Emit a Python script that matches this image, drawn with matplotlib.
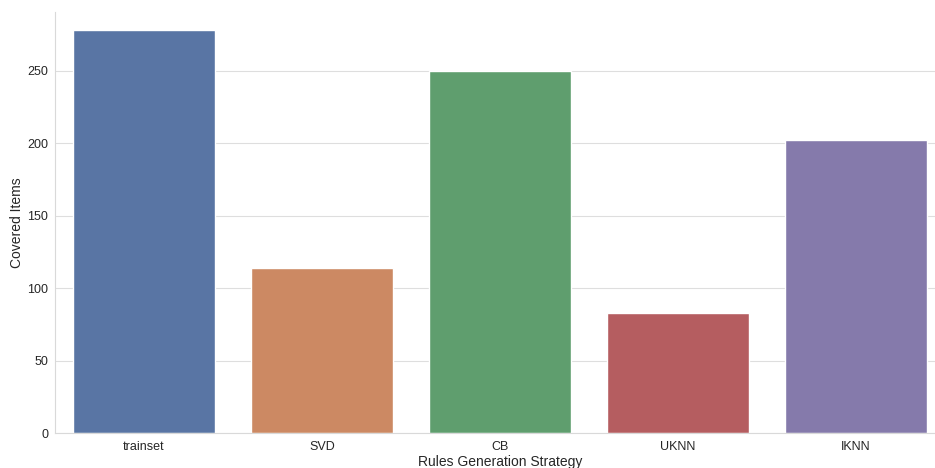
import matplotlib
matplotlib.use("Agg")
import matplotlib.pyplot as plt
import seaborn as sns
import pandas as pd

# data
strategies = ["trainset", "SVD", "CB", "UKNN", "IKNN"]
covered = [278, 114, 250, 83, 202]

sns.set_style("whitegrid")
plt.rcParams['font.family'] = ['Liberation Sans', 'DejaVu Sans']

df = pd.DataFrame({"Rules Generation Strategy": strategies, "Covered Items": covered})

fig = plt.figure(figsize=(9.35, 4.68), dpi=100)
ax = fig.add_axes([55 / 935, 35 / 468, 890 / 935, 421 / 468])
sns.barplot(data=df, x="Rules Generation Strategy", y="Covered Items",
            hue="Rules Generation Strategy", palette="deep", legend=False, ax=ax)
ax.set_xlim(-0.5, 4.5)
ax.set_ylim(0, 290.7)
ax.xaxis.grid(False)
ax.yaxis.grid(True, color=".87")
for s in ax.spines.values():
    s.set_color(".85")
ax.tick_params(axis='both', labelsize=9, length=0, colors=".15")
ax.tick_params(axis='x', pad=6)
ax.tick_params(axis='y', pad=5)
ax.set_xlabel("Rules Generation Strategy", fontsize=10, labelpad=1, color=".15")
ax.set_ylabel("Covered Items", fontsize=10, labelpad=2, color=".15")
sns.despine(ax=ax)
fig.savefig("out.png", dpi=100)
